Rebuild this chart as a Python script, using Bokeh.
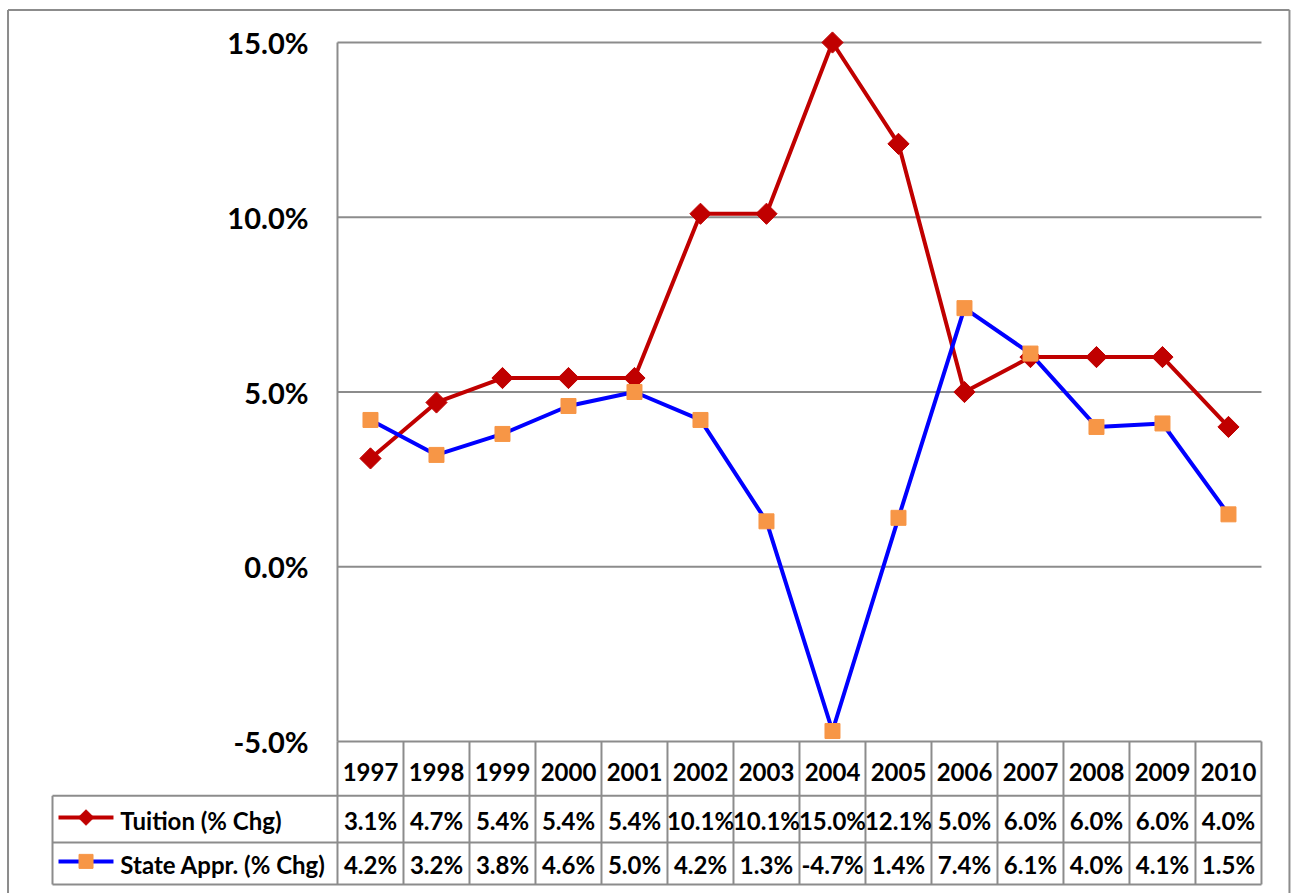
from bokeh.plotting import figure
from bokeh.models import Range1d, LinearAxis, FixedTicker, PrintfTickFormatter
from bokeh.core.properties import value
from bokeh.embed import file_html
from bokeh.resources import INLINE

# ---- data ----
years = ["1997", "1998", "1999", "2000", "2001", "2002", "2003",
         "2004", "2005", "2006", "2007", "2008", "2009", "2010"]
tuition = [3.1, 4.7, 5.4, 5.4, 5.4, 10.1, 10.1, 15.0, 12.1, 5.0, 6.0, 6.0, 6.0, 4.0]
state_appr = [4.2, 3.2, 3.8, 4.6, 5.0, 4.2, 1.3, -4.7, 1.4, 7.4, 6.1, 4.0, 4.1, 1.5]
series_names = ["Tuition (% Chg)", "State Appr. (% Chg)"]
y_ticks = [-5, 0, 5, 10, 15]

# ---- style / layout ----
RED = "#C00000"
BLUE = "#0000FF"
ORANGE = "#F79646"
GRAY = "#8c8c8c"
FONT = value("Lato")

idx = list(range(len(years)))
n = len(years)

# table geometry in data units (below the -5% line)
row_edges = [-5.0, -6.55, -7.89, -9.09]
header_y = -5.88
row_text_y = [-7.26, -8.52]
legend_row_y = [-7.175, -8.43]
legend_left = -4.818
legend_line = (-4.727, -3.894)
legend_marker_x = -4.31
legend_text_x = -3.79
# outer chart-area border
border_left, border_right, border_top, border_bottom = -5.492, 13.924, 15.93, -9.5

p = figure(width=1291, height=893, output_backend="svg", toolbar_location=None,
           x_axis_type=None, y_axis_type=None,
           x_range=Range1d(-5.515, 13.955), y_range=Range1d(-9.349, 15.973),
           min_border_left=6, min_border_right=0, min_border_top=8, min_border_bottom=0,
           background_fill_color="white", border_fill_color="white")
p.grid.visible = False
p.outline_line_color = None

# outer border (left, top, right)
p.segment(x0=[border_left, border_left, border_right],
          x1=[border_left, border_right, border_right],
          y0=[border_bottom, border_top, border_top],
          y1=[border_top, border_top, border_bottom],
          line_color=GRAY, line_width=2)

# y axis placed at the plot's left edge
yaxis = LinearAxis(fixed_location=-0.5,
                   ticker=FixedTicker(ticks=y_ticks),
                   formatter=PrintfTickFormatter(format="%.1f%%"))
yaxis.axis_line_color = None
yaxis.major_tick_line_color = None
yaxis.minor_tick_line_color = None
yaxis.major_tick_out = 0
yaxis.major_tick_in = 0
yaxis.major_label_standoff = 29
yaxis.major_label_text_font = "Lato"
yaxis.major_label_text_font_style = "bold"
yaxis.major_label_text_font_size = "29px"
yaxis.major_label_text_color = "black"
p.add_layout(yaxis, "left")

# horizontal gridlines (the -5% one doubles as table top)
p.segment(x0=[-0.5] * len(y_ticks), x1=[n - 0.5] * len(y_ticks), y0=y_ticks, y1=y_ticks,
          line_color=GRAY, line_width=2)
# plot left edge
p.segment(x0=[-0.5], x1=[-0.5], y0=[y_ticks[0]], y1=[y_ticks[-1]], line_color=GRAY, line_width=2)

# table vertical lines
vx = [i - 0.5 for i in range(n + 1)]
p.segment(x0=vx, x1=vx, y0=[row_edges[0]] * len(vx), y1=[row_edges[-1]] * len(vx),
          line_color=GRAY, line_width=2)
p.segment(x0=[legend_left], x1=[legend_left], y0=[row_edges[1]], y1=[row_edges[-1]],
          line_color=GRAY, line_width=2)
# table horizontal lines
hy = row_edges[1:]
p.segment(x0=[legend_left] * len(hy), x1=[n - 0.5] * len(hy), y0=hy, y1=hy,
          line_color=GRAY, line_width=2)

# series lines
p.line(idx, tuition, line_color=RED, line_width=4)
p.line(idx, state_appr, line_color=BLUE, line_width=4)
p.scatter(idx, tuition, marker="square", angle=0.7854, size=15,
          fill_color=RED, line_color=RED)
p.scatter(idx, state_appr, marker="square", size=15,
          fill_color=ORANGE, line_color=ORANGE)

# table text
txt_kw = dict(text_font=FONT, text_font_style="bold", text_font_size="24px",
              text_color="black", text_align="center", text_baseline="middle")
p.text(x=idx, y=[header_y] * n, text=years, **txt_kw)
p.text(x=idx, y=[row_text_y[0]] * n, text=["%.1f%%" % v for v in tuition], **txt_kw)
p.text(x=idx, y=[row_text_y[1]] * n, text=["%.1f%%" % v for v in state_appr], **txt_kw)

# legend keys inside table
p.segment(x0=[legend_line[0]] * 2, x1=[legend_line[1]] * 2, y0=legend_row_y, y1=legend_row_y,
          line_color=[RED, BLUE], line_width=4)
p.scatter([legend_marker_x], [legend_row_y[0]], marker="square", angle=0.7854, size=11,
          fill_color=RED, line_color=RED)
p.scatter([legend_marker_x], [legend_row_y[1]], marker="square", size=14,
          fill_color=ORANGE, line_color=ORANGE)
p.text(x=[legend_text_x] * 2, y=row_text_y, text=series_names,
       text_font=FONT, text_font_style="bold", text_font_size="24px",
       text_color="black", text_align="left", text_baseline="middle")

open("out.html", "w").write(file_html(p, INLINE))
